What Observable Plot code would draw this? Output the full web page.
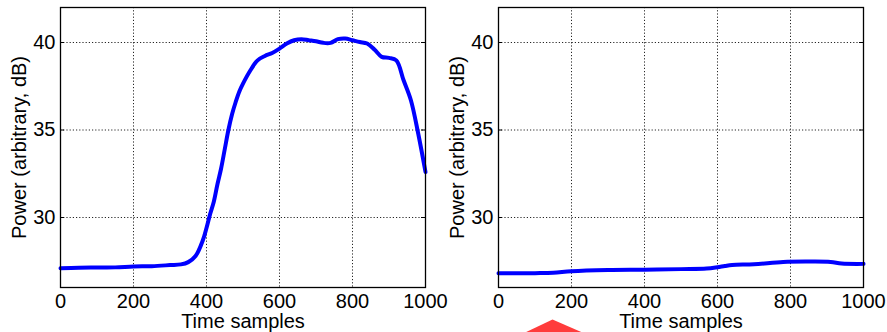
<!DOCTYPE html>
<html><head><meta charset="utf-8">
<script src="https://cdn.jsdelivr.net/npm/d3@7"></script>
<script src="https://cdn.jsdelivr.net/npm/@observablehq/plot@0.6"></script>
<style>
body{margin:0;background:#fff;}
#wrap{display:flex;width:887px;height:332px;overflow:hidden;}
svg{overflow:visible;display:block;}
</style></head><body><div id="wrap"></div>
<script>
// Data
const xTicks = [0, 200, 400, 600, 800, 1000];
const yTicks = [30, 35, 40];
const xLabel = "Time samples";
const yLabel = "Power (arbitrary, dB)";

const leftT = [0,50,100,150,200,250,300,330,350,370,390,400,410,420,430,440,450,460,470,480,490,500,520,540,560,580,600,620,640,660,680,700,720,740,760,780,800,820,840,860,880,900,920,940,960,980,1000];
const leftV = [27.1,27.13,27.14,27.15,27.2,27.22,27.28,27.32,27.45,27.8,28.7,29.4,30.2,30.9,31.9,32.8,33.9,35.0,35.9,36.6,37.2,37.65,38.4,38.98,39.23,39.4,39.65,39.94,40.13,40.19,40.13,40.07,39.98,39.98,40.19,40.23,40.13,40.03,39.94,39.6,39.18,39.12,38.98,37.84,36.7,34.8,32.6];

const rightT = [0,100,150,200,300,400,500,570,600,620,640,700,780,850,910,940,1000];
const rightV = [26.81,26.82,26.84,26.93,27.0,27.02,27.05,27.08,27.16,27.23,27.29,27.33,27.46,27.48,27.46,27.37,27.35];

// red arrow-head annotation below the right panel (time, dB)
const markerT = [60, 148, 244];
const markerV = [23.3, 24.17, 23.3];

const FS = 20;

function panel({t, v, width, marginLeft, marginRight, marker}) {
  const data = t.map((d, i) => ({t: d, v: v[i]}));
  const plotW = width - marginLeft - marginRight;
  const marks = [
    Plot.gridX({ticks: xTicks, stroke: "#000", strokeOpacity: 0.85, strokeDasharray: "1.2,2"}),
    Plot.gridY({ticks: yTicks, stroke: "#000", strokeOpacity: 0.85, strokeDasharray: "1.2,2"}),
    Plot.tickY(yTicks, {y: d => d, stroke: "#000", insetRight: plotW - 4}),
    Plot.tickY(yTicks, {y: d => d, stroke: "#000", insetLeft: plotW - 4}),
    Plot.line(data, {x: "t", y: "v", stroke: "#0000ff", strokeWidth: 4, curve: "catmull-rom"}),
    Plot.frame({stroke: "#000", strokeWidth: 1.3}),
    Plot.axisX({ticks: xTicks, tickSize: 0, tickPadding: 6, tickFormat: d => String(d), fontSize: FS, label: null}),
    Plot.axisY({ticks: yTicks, tickSize: 0, tickPadding: 5, tickFormat: d => String(d), fontSize: FS, label: null}),
    Plot.text([yLabel], {frameAnchor: "left", textAnchor: "middle", rotate: -90, dx: -41, fontSize: FS}),
    Plot.text([xLabel], {frameAnchor: "bottom", textAnchor: "middle", lineAnchor: "bottom", dy: 40, fontSize: FS})
  ];
  if (marker) {
    const tri = marker.t.map((d, i) => ({t: d, v: marker.v[i]}));
    marks.push(Plot.line(tri, {x: "t", y: "v", fill: "#ff3c3c", stroke: "none"}));
  }
  return Plot.plot({
    width, height: 332,
    marginTop: 7, marginBottom: 45, marginLeft, marginRight,
    x: {domain: [0, 1000], axis: null},
    y: {domain: [26, 42], axis: null},
    style: {fontFamily: "'Liberation Sans', Arial, sans-serif", fontSize: FS + "px", color: "#000", background: "transparent", overflow: "visible"},
    marks
  });
}

const wrap = document.getElementById("wrap");
wrap.append(panel({t: leftT, v: leftV, width: 443, marginLeft: 60, marginRight: 18}));
wrap.append(panel({t: rightT, v: rightV, width: 444, marginLeft: 55, marginRight: 24, marker: {t: markerT, v: markerV}}));
</script></body></html>
